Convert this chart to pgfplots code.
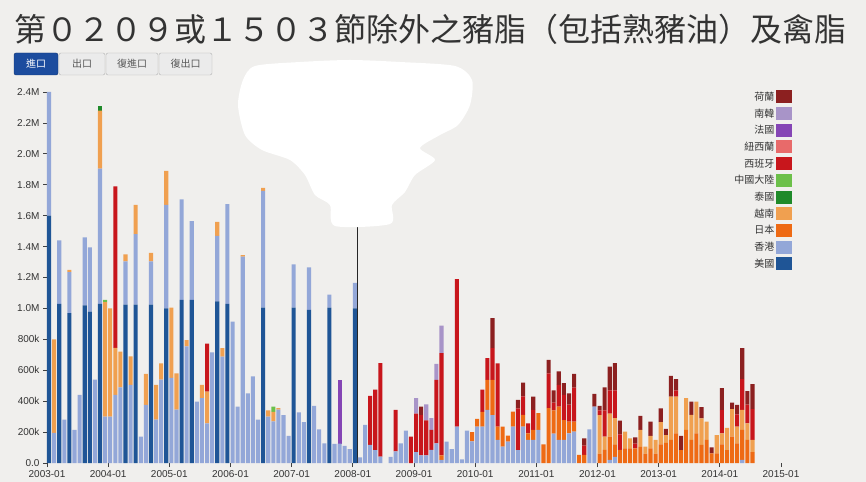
\documentclass[border=0pt]{standalone}
\usepackage{fontspec}
\setmainfont{Liberation Sans}
\newfontfamily\cjk{Noto Sans CJK TC}
\usepackage{pgfplots}
\usepackage{pgfplotstable}
\pgfplotsset{compat=1.18}

\definecolor{bg}{HTML}{F0EFED}
\definecolor{cUS}{HTML}{1F5596}
\definecolor{cHK}{HTML}{93A7D8}
\definecolor{cJP}{HTML}{EE6A14}
\definecolor{cVN}{HTML}{F0A050}
\definecolor{cTH}{HTML}{1F8A2A}
\definecolor{cCN}{HTML}{6CC04A}
\definecolor{cES}{HTML}{C8161C}
\definecolor{cNZ}{HTML}{E86A6A}
\definecolor{cFR}{HTML}{8545B5}
\definecolor{cKR}{HTML}{A894C8}
\definecolor{cNL}{HTML}{8C2020}
\definecolor{btn}{HTML}{1C4C9E}

% monthly imports in thousands, m = months since 2003-01
\pgfplotstableread{
m us hk jp vn th cn es nz fr kr nl
0 1600 800 0 0 0 0 0 0 0 0 0
1 0 195 0 605 0 0 0 0 0 0 0
2 1030 410 0 0 0 0 0 0 0 0 0
3 0 280 0 0 0 0 0 0 0 0 0
4 970 265 0 15 0 0 0 0 0 0 0
5 0 215 0 0 0 0 0 0 0 0 0
6 0 440 0 0 0 0 0 0 0 0 0
7 1020 440 0 0 0 0 0 0 0 0 0
8 980 415 0 0 0 0 0 0 0 0 0
9 0 540 0 0 0 0 0 0 0 0 0
10 1030 875 0 375 32 0 0 0 0 0 0
11 0 300 0 740 0 15 0 0 0 0 0
12 0 300 0 700 0 0 0 0 0 0 0
13 0 440 0 305 0 0 1045 0 0 0 0
14 0 490 0 230 0 0 0 0 0 0 0
15 1025 280 0 45 0 0 0 0 0 0 0
16 0 505 0 185 0 0 0 0 0 0 0
17 1025 455 0 190 0 0 0 0 0 0 0
18 0 170 0 0 0 0 0 0 0 0 0
19 0 376 0 200 0 0 0 0 0 0 0
20 1025 280 0 55 0 0 0 0 0 0 0
21 0 280 0 225 0 0 0 0 0 0 0
22 0 540 0 105 0 0 0 0 0 0 0
23 1000 670 0 220 0 0 0 0 0 0 0
24 0 550 0 455 0 0 0 0 0 0 0
25 0 345 0 235 0 0 0 0 0 0 0
26 1055 650 0 0 0 0 0 0 0 0 0
27 0 755 0 40 0 0 0 0 0 0 0
28 1055 510 0 0 0 0 0 0 0 0 0
29 0 397 0 0 0 0 0 0 0 0 0
30 0 420 0 85 0 0 0 0 0 0 0
31 0 257 0 205 0 0 310 0 0 0 0
32 0 715 0 0 0 0 0 0 0 0 0
33 1045 425 0 90 0 0 0 0 0 0 0
34 0 688 0 55 0 0 0 0 0 0 0
35 1030 645 0 0 0 0 0 0 0 0 0
36 0 915 0 0 0 0 0 0 0 0 0
37 0 365 0 0 0 0 0 0 0 0 0
38 0 1335 0 10 0 0 0 0 0 0 0
39 0 450 0 0 0 0 0 0 0 0 0
40 0 560 0 0 0 0 0 0 0 0 0
41 0 280 0 0 0 0 0 0 0 0 0
42 1005 755 0 20 0 0 0 0 0 0 0
43 0 300 0 40 0 0 0 0 0 0 0
44 0 270 0 60 0 35 0 0 0 0 0
45 0 345 0 10 0 0 0 0 0 0 0
46 0 310 0 0 0 0 0 0 0 0 0
47 0 175 0 0 0 0 0 0 0 0 0
48 1005 280 0 0 0 0 0 0 0 0 0
49 0 328 0 0 0 0 0 0 0 0 0
50 0 264 0 0 0 0 0 0 0 0 0
51 990 275 0 0 0 0 0 0 0 0 0
52 0 369 0 0 0 0 0 0 0 0 0
53 0 218 0 0 0 0 0 0 0 0 0
54 0 127 0 0 0 0 0 0 0 0 0
55 1005 85 0 0 0 0 0 0 0 0 0
56 0 123 0 0 0 0 0 0 0 0 0
57 0 125 0 0 0 0 0 0 410 0 0
58 0 110 0 0 0 0 0 0 0 0 0
59 0 89 0 0 0 0 0 0 0 0 0
60 1000 165 0 0 0 0 0 0 0 0 0
61 0 37 0 0 0 0 0 0 0 0 0
62 0 246 0 0 0 0 0 0 0 0 0
63 0 117 0 0 0 0 317 0 0 0 0
64 0 84 0 0 0 0 390 0 0 0 0
65 0 41 0 0 0 0 605 0 0 0 0
66 0 0 0 0 0 0 0 0 0 0 0
67 0 40 0 0 0 0 0 0 0 0 0
68 0 75 0 0 0 0 268 0 0 0 0
69 0 127 0 0 0 0 0 0 0 0 0
70 0 210 0 0 0 0 0 0 0 0 0
71 0 0 0 0 0 0 170 0 0 0 0
72 0 70 0 0 0 0 250 0 0 100 0
73 0 50 0 0 0 0 260 0 0 0 55
74 0 50 0 0 0 0 225 0 0 105 0
75 0 85 0 0 0 0 130 0 0 75 0
76 0 127 0 0 0 0 410 0 0 105 0
77 0 20 30 0 0 0 660 0 0 178 0
78 0 138 0 0 0 0 0 0 0 0 0
79 0 90 0 0 0 0 0 0 0 0 0
80 0 235 0 0 0 0 955 0 0 0 0
81 0 24 0 0 0 0 0 0 0 0 0
82 0 210 0 0 0 0 0 0 0 0 0
83 0 140 60 0 0 0 0 0 0 0 0
84 0 235 50 0 0 0 0 0 0 0 0
85 0 235 95 0 0 0 145 0 0 0 0
86 0 343 195 0 0 0 140 0 0 0 0
87 0 310 228 0 0 0 205 0 0 0 194
88 0 150 85 0 0 0 410 0 0 0 0
89 0 106 129 0 0 0 0 0 0 0 0
90 0 138 39 0 0 0 0 0 0 0 0
91 0 235 98 0 0 0 0 0 0 0 0
92 0 84 0 0 0 0 270 0 0 0 54
93 0 235 76 0 0 0 120 0 0 0 89
94 0 149 43 0 0 0 65 0 0 0 0
95 0 149 65 0 0 0 130 0 0 0 86
96 0 214 108 0 0 0 0 0 0 0 0
97 0 0 120 0 0 0 0 0 0 0 0
98 0 0 355 0 0 0 225 0 0 0 87
99 0 190 150 0 0 0 50 0 0 0 79
100 0 150 215 0 0 0 140 0 0 0 87
101 0 149 129 0 0 0 163 0 0 0 75
102 0 192 76 0 0 0 110 0 0 0 73
103 0 203 65 0 0 0 219 0 0 0 90
104 0 0 52 0 0 0 0 0 0 0 0
105 0 0 52 0 0 0 60 0 0 0 48
106 0 218 0 0 0 0 0 0 0 0 0
107 0 365 0 0 0 0 0 0 0 0 82
108 0 0 60 250 0 0 30 0 0 0 29
109 0 0 85 85 0 0 170 0 0 0 150
110 0 20 150 150 0 0 150 0 0 0 154
111 0 40 80 170 0 0 180 0 0 0 176
112 0 0 85 0 0 0 100 0 0 0 89
113 0 0 95 108 0 0 0 0 0 0 0
114 0 0 95 65 0 0 0 0 0 0 0
115 0 0 95 0 0 0 30 0 0 0 41
116 0 0 105 110 0 0 0 0 0 0 90
117 0 0 60 46 0 0 0 0 0 0 0
118 0 0 95 80 0 0 0 0 0 0 93
119 0 0 60 89 0 0 0 0 0 0 0
120 0 0 120 145 0 0 0 0 0 0 89
121 0 0 130 50 0 0 0 0 0 0 40
122 0 0 149 281 0 0 0 0 0 0 134
123 0 0 192 238 0 0 40 0 0 0 72
124 0 0 84 0 0 0 0 0 0 0 91
125 0 0 214 205 0 0 0 0 0 0 0
126 0 0 149 162 0 0 0 0 0 0 86
127 0 0 192 205 0 0 0 0 0 0 0
128 0 0 117 172 0 0 0 0 0 0 72
129 0 0 149 119 0 0 0 0 0 0 0
130 0 0 63 0 0 0 0 0 0 0 38
131 0 0 63 118 0 0 0 0 0 0 0
132 0 0 120 72 0 0 150 0 0 0 142
133 0 0 84 143 0 0 0 0 0 0 0
134 0 0 171 177 0 0 0 0 0 0 43
135 0 0 127 108 0 0 80 0 0 0 61
136 0 20 194 129 0 0 200 0 0 0 200
137 0 0 149 108 0 0 120 0 0 0 88
138 0 0 70 79 0 0 200 0 0 0 161
}\imports

\begin{document}
\begin{tikzpicture}
\path[use as bounding box] (0,0) rectangle (866bp,482bp);
\fill[bg] (0,0) rectangle (866bp,482bp);

% header: title and tab buttons (image pixel coordinates, y downwards)
\begin{scope}[x=1bp,y=-1bp,shift={(0bp,482bp)}]
\node[font=\cjk\fontsize{32bp}{36bp}\selectfont, text=black!80] at (431,29)
  {第０２０９或１５０３節除外之豬脂（包括熟豬油）及禽脂};
\draw[fill=btn, draw=btn!70!black, rounded corners=2bp] (14,53) rectangle (58,75);
\draw[fill=black!8, draw=black!30, rounded corners=2bp] (59,53) rectangle (105,75);
\draw[fill=black!8, draw=black!30, rounded corners=2bp] (106,53) rectangle (158,75);
\draw[fill=black!8, draw=black!30, rounded corners=2bp] (159,53) rectangle (212,75);
\node[font=\cjk\fontsize{10bp}{12bp}\selectfont, text=white] at (36,64) {進口};
\node[font=\cjk\fontsize{10bp}{12bp}\selectfont, text=black!65] at (82,64) {出口};
\node[font=\cjk\fontsize{10bp}{12bp}\selectfont, text=black!65] at (132,64) {復進口};
\node[font=\cjk\fontsize{10bp}{12bp}\selectfont, text=black!65] at (185.5,64) {復出口};
\end{scope}

\begin{axis}[
  at={(47bp,19bp)}, anchor=south west,
  width=734bp, height=371bp, scale only axis,
  xmin=0, xmax=144, ymin=0, ymax=2400,
  ybar stacked, bar width=0.8,
  axis lines*=left, axis line style={draw=none},
  xtick={0,12,...,144},
  xticklabels={2003-01,2004-01,2005-01,2006-01,2007-01,2008-01,2009-01,2010-01,2011-01,2012-01,2013-01,2014-01,2015-01},
  ytick={0,200,...,2400},
  yticklabels={0.0,200k,400k,600k,800k,1.0M,1.2M,1.4M,1.6M,1.8M,2.0M,2.2M,2.4M},
  tick align=outside, major tick length=4bp,
  tick style={draw=black!75, line width=0.8bp},
  ticklabel style={font=\fontsize{10bp}{12bp}\selectfont, text=black!80},
  clip=false,
  reverse legend, legend plot pos=right, legend cell align=right,
  legend image code/.code={\fill[#1] (0bp,-6.5bp) rectangle (16bp,6.5bp);},
  legend style={draw=none, fill=none, at={(rel axis cs:1.015,1.005)}, anchor=north east,
    row sep=3.7bp, inner sep=0pt, font=\cjk\fontsize{10bp}{12bp}\selectfont,
    text=black!80, nodes={inner sep=1.5bp}},
]
\addplot[fill=cUS, draw=none] table[x expr=\thisrow{m}+0.4, y=us] {\imports};
\addlegendentry{美國}
\addplot[fill=cHK, draw=none] table[x expr=\thisrow{m}+0.4, y=hk] {\imports};
\addlegendentry{香港}
\addplot[fill=cJP, draw=none] table[x expr=\thisrow{m}+0.4, y=jp] {\imports};
\addlegendentry{日本}
\addplot[fill=cVN, draw=none] table[x expr=\thisrow{m}+0.4, y=vn] {\imports};
\addlegendentry{越南}
\addplot[fill=cTH, draw=none] table[x expr=\thisrow{m}+0.4, y=th] {\imports};
\addlegendentry{泰國}
\addplot[fill=cCN, draw=none] table[x expr=\thisrow{m}+0.4, y=cn] {\imports};
\addlegendentry{中國大陸}
\addplot[fill=cES, draw=none] table[x expr=\thisrow{m}+0.4, y=es] {\imports};
\addlegendentry{西班牙}
\addplot[fill=cNZ, draw=none] table[x expr=\thisrow{m}+0.4, y=nz] {\imports};
\addlegendentry{紐西蘭}
\addplot[fill=cFR, draw=none] table[x expr=\thisrow{m}+0.4, y=fr] {\imports};
\addlegendentry{法國}
\addplot[fill=cKR, draw=none] table[x expr=\thisrow{m}+0.4, y=kr] {\imports};
\addlegendentry{南韓}
\addplot[fill=cNL, draw=none] table[x expr=\thisrow{m}+0.4, y=nl] {\imports};
\addlegendentry{荷蘭}
\draw[black!85, line width=1bp] (axis cs:60.85,0) -- (axis cs:60.85,1542);
\end{axis}

% white patch over the middle of the chart
\begin{scope}[x=1bp,y=-1bp,shift={(0bp,482bp)}]
\fill[white] plot[smooth cycle, tension=0.45] coordinates {
  (243,80) (255,66) (300,62) (350,60) (400,62) (455,66) (472,80) (470,105)
  (458,125) (440,135) (420,148) (435,160) (415,175) (405,192) (392,205)
  (390,224) (335,226) (330,205) (315,195) (305,175) (290,160) (262,150)
  (245,135) (238,105)};
\end{scope}
\end{tikzpicture}
\end{document}
